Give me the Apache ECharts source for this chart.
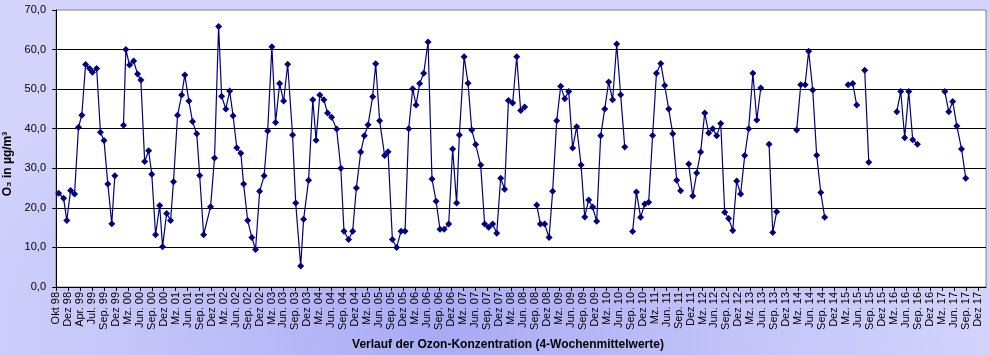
<!DOCTYPE html>
<html>
<head>
<meta charset="utf-8">
<script src="https://cdn.jsdelivr.net/npm/echarts@6/dist/echarts.min.js"></script>
<style>
html,body{margin:0;padding:0;}
#chart{width:990px;height:355px;
background: radial-gradient(ellipse 55% 85% at 45% 92%, #a9a9f4 0%, #c4c4f9 55%, #d3d3fc 100%);}
</style>
</head>
<body>
<div id="chart"></div>
<script>
// Achsenbeschriftung (Tickabstand 91 Tage ab 01.10.1998)
const tickLabels = [
  "Okt 98","Dez 98","Apr. 99","Jul. 99","Sep. 99","Dez 99",
  "Mz. 00","Jun. 00","Sep. 00","Dez 00",
  "Mz. 01","Jun. 01","Sep. 01","Dez 01",
  "Mz. 02","Jun. 02","Sep. 02","Dez 02",
  "Mz. 03","Jun. 03","Sep. 03","Dez 03",
  "Mz. 04","Jun. 04","Sep. 04","Dez 04",
  "Mz. 05","Jun. 05","Sep. 05","Dez 05",
  "Mz. 06","Jun. 06","Sep. 06","Dez 06",
  "Mz. 07","Jun. 07","Sep. 07","Dez 07",
  "Mz. 08","Jun. 08","Sep. 08","Dez 08",
  "Mz. 09","Jun. 09","Sep. 09","Dez 09",
  "Mz. 10","Jun. 10","Sep. 10","Dez 10",
  "Mz. 11","Jun. 11","Sep. 11","Dez 11",
  "Mz. 12","Jun. 12","Sep. 12","Dez 12",
  "Mz. 13","Jun. 13","Sep. 13","Dez 13",
  "Mz. 14","Jun. 14","Sep. 14","Dez 14",
  "Mz. 15","Jun. 15","Sep. 15","Dez 15",
  "Mz. 16","Jun. 16","Sep. 16","Dez 16",
  "Mz. 17","Jun. 17","Sep. 17","Dez 17"
];
const tickStepDays = 91;
const axisEndDay = 7069;

// Messzeitpunkte: Tage seit 01.10.1998 (null-Wert = Messlücke)
const tage = [
  20,58,82,111,141,171,196,225,255,277,309,338,365,394,424,447,
  480,
  513,531,559,590,620,645,674,704,728,757,788,810,841,871,893,924,955,979,1010,1038,1070,1092,1122,
  1175,1205,1236,1259,1291,1320,1346,1374,1405,1426,1457,1489,1517,1548,1582,1609,1641,1669,1700,1730,1761,
  1798,1822,1860,1882,1920,1952,1977,2005,2036,2064,2095,2133,2165,2189,2224,2255,2283,2316,2344,2372,
  2407,2430,2460,2498,2524,2557,2589,2623,2653,2681,2711,2737,2764,2795,2828,2858,2889,2919,2950,2985,
  3015,3045,3066,3102,3132,3160,3190,3228,3258,3289,3319,3350,3380,3410,3439,3471,3502,3532,3562,
  3608,
  3654,3682,3714,3748,3775,3806,3836,3867,3897,3927,3958,3991,4019,4049,4079,4110,4140,4171,4201,4231,4262,4292,4323,
  4353,
  4383,4412,4444,4475,4505,4535,4564,4597,4627,4657,4688,4718,4748,
  4778,
  4809,4840,4870,4900,4931,4961,4992,5022,5053,5083,5113,5144,5174,5204,5235,5265,5297,5327,5357,
  5388,
  5420,5448,5478,
  5550,
  5630,5661,5694,5721,5752,5782,5813,5843,
  5930,
  6021,6056,6086,
  6116,
  6147,6178,
  6280,
  6391,6421,6451,6482,6512,6548,
  6650,
  6756,6786,6816,6847,6883,6915
];

// O3 4-Wochenmittelwerte in µg/m³
const o3 = [
  23.7,22.4,16.8,24.4,23.5,40.4,43.4,56.2,55.2,54.3,55.2,39.1,37.0,26.0,16.0,28.1,
  null,
  40.9,60.0,56.1,57.1,53.8,52.3,31.7,34.4,28.5,13.2,20.6,10.2,18.6,16.8,26.6,43.4,48.5,53.6,47.0,41.8,38.7,28.2,13.2,
  20.3,32.6,65.8,48.2,45.0,49.5,43.3,35.2,33.8,26.0,16.8,12.5,9.5,24.2,28.1,39.4,60.7,41.6,51.4,47.0,56.3,
  38.4,21.2,5.3,17.1,27.0,47.3,37.1,48.5,47.3,44.0,42.9,39.9,30.0,14.1,12.0,14.1,25.0,34.1,38.2,41.0,
  48.1,56.4,42.0,33.2,34.2,12.0,10.0,14.1,14.1,40.0,50.1,46.0,51.4,54.0,61.9,27.3,21.7,14.6,14.6,15.9,
  34.9,21.2,38.4,58.2,51.5,39.7,36.0,30.8,15.9,15.1,15.9,13.6,27.5,24.7,47.1,46.5,58.2,44.6,45.5,
  null,
  20.7,15.9,15.9,12.5,24.2,42.0,50.7,47.6,49.4,35.1,40.5,30.8,17.7,22.0,20.2,16.6,38.2,45.0,51.8,47.3,61.4,48.6,35.4,
  null,
  14.0,24.0,17.6,21.0,21.4,38.3,54.0,56.5,50.9,45.0,38.7,27.0,24.3,
  null,
  31.1,23.0,28.8,34.1,44.0,38.9,40.0,38.2,41.3,18.9,17.3,14.3,26.8,23.5,33.2,40.0,54.0,42.2,50.3,
  null,
  36.1,13.8,19.0,
  null,
  39.7,51.1,51.1,59.6,49.8,33.3,23.9,17.6,
  null,
  51.1,51.4,46.0,
  null,
  54.8,31.5,
  null,
  44.3,49.4,37.7,49.4,37.2,36.1,
  null,
  49.4,44.3,46.9,40.7,34.9,27.5
];

const chart = echarts.init(document.getElementById('chart'), null, {renderer: 'canvas'});
const FONT = "'Liberation Sans', Arial, sans-serif";

chart.setOption({
  animation: false,
  backgroundColor: 'transparent',
  textStyle: { fontFamily: FONT, color: '#000' },
  grid: {
    left: 56, right: 4, top: 10, bottom: 68,
    containLabel: false,
    outerBoundsMode: 'none',
    show: true, backgroundColor: '#ffffff', borderColor: '#808080', borderWidth: 1
  },
  xAxis: {
    type: 'value',
    min: 0, max: axisEndDay, interval: tickStepDays,
    axisLine: { show: true, onZero: false, lineStyle: { color: '#000', width: 1 } },
    axisTick: { show: true, length: 4, inside: false, lineStyle: { color: '#000', width: 1 } },
    axisLabel: {
      rotate: 90, fontSize: 11, color: '#000', fontFamily: FONT, margin: 5,
      showMaxLabel: false, showMinLabel: true,
      formatter: function (v) {
        const k = Math.round(v / tickStepDays);
        return (Math.abs(v - k * tickStepDays) < 0.5 && tickLabels[k]) ? tickLabels[k] : '';
      }
    },
    splitLine: { show: false },
    name: 'Verlauf der Ozon-Konzentration (4-Wochenmittelwerte)',
    nameLocation: 'middle', nameGap: 52,
    nameTextStyle: { fontSize: 12, fontWeight: 'bold', color: '#000', fontFamily: FONT, padding: [0, 26, 0, 0] }
  },
  yAxis: {
    type: 'value',
    min: 0, max: 70, interval: 10,
    axisLine: { show: true, lineStyle: { color: '#000', width: 1 } },
    axisTick: { show: true, length: 4, lineStyle: { color: '#000', width: 1 } },
    axisLabel: {
      fontSize: 11, color: '#000', fontFamily: FONT, margin: 10,
      formatter: function (v) { return v.toFixed(1).replace('.', ','); }
    },
    splitLine: { show: true, showMinLine: false, showMaxLine: false, lineStyle: { color: '#000', width: 1 } },
    name: 'O₃ in µg/m³',
    nameLocation: 'middle', nameGap: 38,
    nameTextStyle: { fontSize: 12, fontWeight: 'bold', color: '#000', fontFamily: FONT, padding: [0, 31, 0, 0] }
  },
  series: [{
    type: 'line',
    data: tage.map(function (t, i) { return [t, o3[i] === null ? '-' : o3[i]]; }),
    connectNulls: false,
    symbol: 'diamond',
    symbolSize: 7,
    showAllSymbol: true,
    lineStyle: { color: '#000080', width: 1.2 },
    itemStyle: { color: '#000080', borderWidth: 0 },
    emphasis: { disabled: true },
    silent: true,
    z: 3
  }]
});
</script>
</body>
</html>
